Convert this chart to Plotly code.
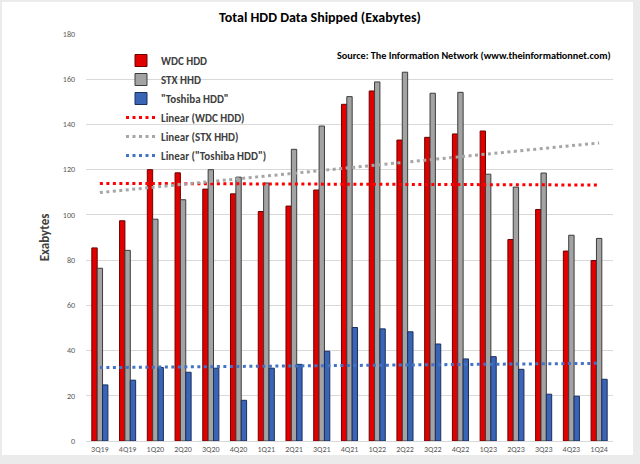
import numpy as np
import plotly.graph_objects as go

quarters = ["3Q19", "4Q19", "1Q20", "2Q20", "3Q20", "4Q20", "1Q21", "2Q21", "3Q21", "4Q21",
            "1Q22", "2Q22", "3Q22", "4Q22", "1Q23", "2Q23", "3Q23", "4Q23", "1Q24"]
wdc = [85.4, 97.4, 120.0, 118.6, 111.4, 109.3, 101.5, 103.9, 111.0, 148.9,
       154.8, 133.1, 134.3, 135.8, 137.1, 89.1, 102.4, 84.0, 79.8]
stx = [76.4, 84.3, 98.1, 106.7, 120.0, 116.7, 114.1, 129.0, 139.3, 152.3,
       158.8, 163.1, 153.8, 154.2, 118.0, 112.3, 118.5, 91.0, 89.6]
toshiba = [24.8, 26.9, 32.5, 30.4, 32.2, 18.0, 32.2, 33.9, 39.7, 50.2,
           49.6, 48.3, 42.9, 36.3, 37.3, 31.7, 20.7, 19.8, 27.3]
y_ticks = [0, 20, 40, 60, 80, 100, 120, 140, 160, 180]


def linear_trend(vals):
    idx = np.arange(1, len(vals) + 1)
    k, b = np.polyfit(idx, vals, 1)
    return list(k * idx + b)


DOT = "3px,3.5px"

fig = go.Figure()
fig.add_trace(go.Bar(name="WDC HDD", x=quarters, y=wdc,
                     marker=dict(color="#E00000", line=dict(color="#6E0000", width=1))))
fig.add_trace(go.Bar(name="STX HHD", x=quarters, y=stx,
                     marker=dict(color="#A3A3A3", line=dict(color="#3C3C3C", width=1))))
fig.add_trace(go.Bar(name="\"Toshiba HDD\"", x=quarters, y=toshiba,
                     marker=dict(color="#3A64B4", line=dict(color="#1B2F5E", width=1))))
fig.add_trace(go.Scatter(name="Linear (WDC HDD)", x=quarters, y=linear_trend(wdc), mode="lines",
                         line=dict(color="#FF0000", width=3, dash=DOT)))
fig.add_trace(go.Scatter(name="Linear (STX HHD)", x=quarters, y=linear_trend(stx), mode="lines",
                         line=dict(color="#A6A6A6", width=3, dash=DOT)))
fig.add_trace(go.Scatter(name="Linear (\"Toshiba HDD\")", x=quarters, y=linear_trend(toshiba), mode="lines",
                         line=dict(color="#4472C4", width=3, dash=DOT)))

L, R, T, B = 86, 27, 34, 23
W, H = 640, 464
pw, ph = W - L - R, H - T - B


def px_x(p):
    return (p - L) / pw


def px_y(p):
    return (H - B - p) / ph


fig.add_shape(type="rect", xref="paper", yref="paper", layer="below",
              x0=px_x(2), x1=px_x(633), y0=px_y(455), y1=px_y(2),
              fillcolor="white", line=dict(width=0))

fig.update_layout(
    width=W, height=H,
    margin=dict(l=L, r=R, t=T, b=B, autoexpand=False),
    paper_bgcolor="#EBEBEB",
    plot_bgcolor="white",
    barmode="group",
    bargap=0.42,
    bargroupgap=0,
    font=dict(family="Calibri, Carlito, Lato, 'Liberation Sans', Arial, sans-serif", color="#595959"),
    title=dict(text="<b>Total HDD Data Shipped (Exabytes)</b>", x=0.5, xref="container", xanchor="center",
               y=1 - 17 / H, yanchor="middle", font=dict(size=14, color="#000000")),
    legend=dict(x=px_x(121), y=px_y(46), xanchor="left", yanchor="top", bgcolor="rgba(0,0,0,0)",
                font=dict(size=11, color="#404040", weight="bold"), tracegroupgap=0, itemwidth=30),
    showlegend=True,
    annotations=[dict(text="<b>Source: The Information Network (www.theinformationnet.com)</b>",
                      xref="paper", yref="paper", x=px_x(613), y=px_y(55), xanchor="right",
                      yanchor="middle", showarrow=False, font=dict(size=10.2, color="#000000"))],
)
fig.update_xaxes(type="category", showgrid=False, showline=True, linecolor="#D9D9D9", linewidth=1,
                 ticks="", tickfont=dict(size=8, color="#595959"), automargin=False)
fig.update_yaxes(range=[0, 180], tickvals=y_ticks, showgrid=True, gridcolor="#D9D9D9", gridwidth=1,
                 zeroline=False, showline=False, ticks="", tickfont=dict(size=8, color="#595959"),
                 ticklabelstandoff=10, automargin=False,
                 title=dict(text="<b>Exabytes</b>", font=dict(size=13, color="#404040"), standoff=10))

fig.write_html("out.html", config={"displayModeBar": False},
               post_script="document.body.style.margin='0';")
